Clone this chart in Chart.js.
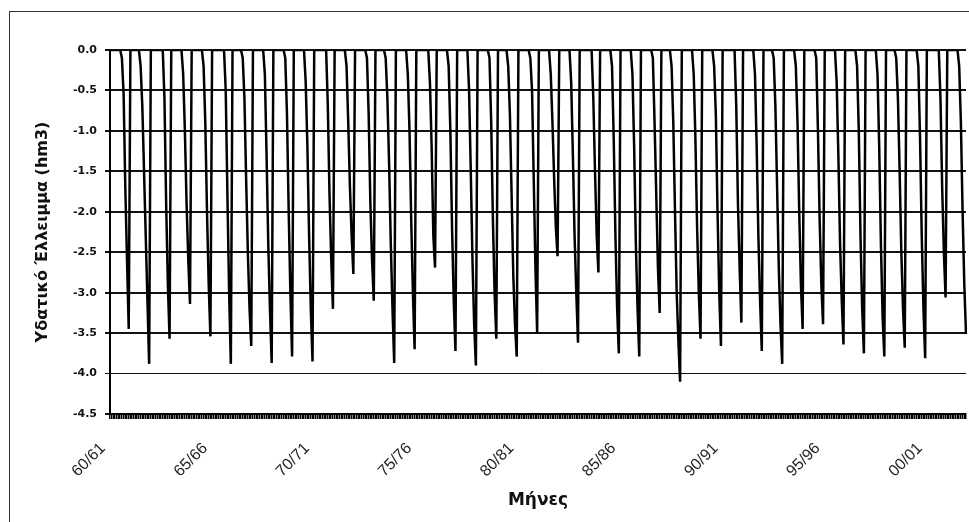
<!DOCTYPE html>
<html>
<head>
<meta charset="utf-8">
<script src="https://cdn.jsdelivr.net/npm/chart.js@4.4.0/dist/chart.umd.min.js"></script>
<style>
  html, body { margin: 0; padding: 0; background: #fff; }
  #wrap { position: relative; width: 969px; height: 522px; overflow: hidden; }
  #frame { position: absolute; left: 9px; top: 11px; width: 990px; height: 540px; border: 1.5px solid #333; }
  canvas { position: absolute; left: 0; top: 0; }
</style>
</head>
<body>
<div id="wrap">
  <div id="frame"></div>
  <canvas id="deficitChart" width="969" height="522"></canvas>
</div>
<script>
// hydrological years (Oct - Sep)
const years = ['60/61','61/62','62/63','63/64','64/65','65/66','66/67','67/68','68/69','69/70',
  '70/71','71/72','72/73','73/74','74/75','75/76','76/77','77/78','78/79','79/80',
  '80/81','81/82','82/83','83/84','84/85','85/86','86/87','87/88','88/89','89/90',
  '90/91','91/92','92/93','93/94','94/95','95/96','96/97','97/98','98/99','99/00',
  '00/01','01/02'];

const months = ['Οκτ','Νοε','Δεκ','Ιαν','Φεβ','Μαρ','Απρ','Μαϊ','Ιουν','Ιουλ','Αυγ','Σεπ'];

// monthly water deficit (hm3), one row per year, Oct..Sep
const deficit = [
  [0,0,0,0,0,0,0,-0.1,-0.55,-1.7,-2.6,-3.45],
  [0,0,0,0,0,0,-0.2,-0.7,-1.5,-2.3,-3.1,-3.88],
  [0,0,0,0,0,0,0,0,-0.6,-1.9,-2.9,-3.57],
  [0,0,0,0,0,0,0,-0.3,-1.0,-1.9,-2.6,-3.14],
  [0,0,0,0,0,0,0,-0.2,-0.9,-2.0,-2.9,-3.54],
  [0,0,0,0,0,0,0,0,-0.5,-1.8,-3.0,-3.88],
  [0,0,0,0,0,0,-0.1,-0.6,-1.6,-2.5,-3.2,-3.66],
  [0,0,0,0,0,0,0,-0.3,-1.3,-2.4,-3.2,-3.87],
  [0,0,0,0,0,0,0,-0.1,-0.8,-2.0,-3.0,-3.79],
  [0,0,0,0,0,0,0,-0.4,-1.2,-2.3,-3.2,-3.85],
  [0,0,0,0,0,0,0,0,-0.7,-1.8,-2.6,-3.2],
  [0,0,0,0,0,0,0,-0.2,-0.9,-1.7,-2.3,-2.77],
  [0,0,0,0,0,0,0,-0.1,-0.8,-1.9,-2.6,-3.1],
  [0,0,0,0,0,0,-0.1,-0.6,-1.4,-2.4,-3.2,-3.87],
  [0,0,0,0,0,0,0,-0.3,-1.0,-2.1,-3.0,-3.7],
  [0,0,0,0,0,0,0,0,-0.4,-1.2,-2.3,-2.69],
  [0,0,0,0,0,0,0,-0.2,-1.0,-2.2,-3.1,-3.72],
  [0,0,0,0,0,0,0,-0.5,-1.5,-2.6,-3.4,-3.9],
  [0,0,0,0,0,0,0,-0.1,-0.9,-2.1,-3.0,-3.57],
  [0,0,0,0,0,0,-0.2,-0.8,-1.8,-2.8,-3.4,-3.79],
  [0,0,0,0,0,0,0,-0.1,-0.5,-1.6,-2.7,-3.5],
  [0,0,0,0,0,0,0,-0.3,-0.9,-1.6,-2.2,-2.55],
  [0,0,0,0,0,0,0,-0.4,-1.3,-2.3,-3.0,-3.62],
  [0,0,0,0,0,0,0,0,-0.6,-1.5,-2.3,-2.75],
  [0,0,0,0,0,0,0,-0.2,-1.1,-2.3,-3.2,-3.75],
  [0,0,0,0,0,0,0,-0.3,-1.2,-2.4,-3.2,-3.79],
  [0,0,0,0,0,0,0,-0.1,-0.9,-1.8,-2.7,-3.25],
  [0,0,0,0,0,0,-0.2,-0.9,-2.0,-3.0,-3.6,-4.1],
  [0,0,0,0,0,0,0,-0.3,-1.1,-2.2,-3.0,-3.57],
  [0,0,0,0,0,0,0,-0.2,-0.8,-2.0,-3.0,-3.66],
  [0,0,0,0,0,0,0,0,-0.7,-1.9,-2.7,-3.37],
  [0,0,0,0,0,0,0,-0.3,-1.2,-2.3,-3.1,-3.72],
  [0,0,0,0,0,0,-0.1,-0.7,-1.7,-2.7,-3.4,-3.88],
  [0,0,0,0,0,0,0,-0.2,-0.9,-2.0,-2.9,-3.45],
  [0,0,0,0,0,0,0,-0.1,-1.0,-2.1,-2.9,-3.39],
  [0,0,0,0,0,0,0,-0.4,-1.3,-2.4,-3.1,-3.64],
  [0,0,0,0,0,0,0,-0.2,-1.0,-2.3,-3.2,-3.75],
  [0,0,0,0,0,0,0,-0.3,-1.2,-2.4,-3.3,-3.79],
  [0,0,0,0,0,0,-0.1,-0.6,-1.5,-2.5,-3.2,-3.68],
  [0,0,0,0,0,0,0,-0.2,-1.1,-2.3,-3.2,-3.81],
  [0,0,0,0,0,0,0,0,-0.6,-1.7,-2.5,-3.06],
  [0,0,0,0,0,0,0,-0.2,-0.9,-2.0,-2.9,-3.51]
];

const yTicks = [0, -0.5, -1, -1.5, -2, -2.5, -3, -3.5, -4, -4.5];
const labelEvery = 60; // show a year label every 5 years

// one category per month
const labels = years.flatMap(y => months.map(m => y));
const values = deficit.flat();

const sansFont = "'Liberation Sans', Arial, sans-serif";
const boldFont = "'DejaVu Sans', sans-serif";

new Chart(document.getElementById('deficitChart'), {
  type: 'line',
  data: {
    labels: labels,
    datasets: [{
      data: values,
      borderColor: '#000',
      borderWidth: 2.5,
      pointRadius: 0,
      tension: 0,
      fill: false
    }]
  },
  options: {
    responsive: false,
    animation: false,
    layout: { padding: { top: 50, right: 3, left: 0, bottom: 0 } },
    plugins: {
      legend: { display: false },
      tooltip: { enabled: false }
    },
    scales: {
      x: {
        type: 'category',
        offset: false,
        grid: {
          drawOnChartArea: false,
          drawTicks: true,
          tickLength: 5,
          color: '#000',
          lineWidth: 1.5
        },
        border: { color: '#000', width: 2 },
        ticks: {
          autoSkip: false,
          minRotation: 45,
          maxRotation: 45,
          padding: 20,
          labelOffset: -7,
          color: '#222',
          font: { family: sansFont, size: 16 },
          callback: (v, i) => i % labelEvery === 0 ? labels[i] : ''
        },
        title: {
          display: true,
          text: 'Μήνες',
          color: '#111',
          font: { family: boldFont, size: 17, weight: 'bold' },
          padding: { top: 0, bottom: 11 }
        },
        afterFit: s => {
          s.height = 108;
          s.paddingLeft = 0;
          s.paddingRight = 0;
        }
      },
      y: {
        min: -4.5,
        max: 0,
        afterBuildTicks: s => { s.ticks = yTicks.map(v => ({ value: v })); },
        grid: {
          color: '#111',
          lineWidth: c => (c.tick && c.tick.value === -4) ? 1 : 2,
          tickLength: 5
        },
        border: { color: '#000', width: 2 },
        ticks: {
          padding: 8,
          color: '#111',
          font: { family: boldFont, size: 11, weight: 'bold' },
          callback: v => v.toFixed(1)
        },
        title: {
          display: true,
          text: 'Υδατικό Έλλειμμα (hm3)',
          color: '#111',
          font: { family: boldFont, size: 16, weight: 'bold' },
          padding: { top: 33, bottom: 0 }
        },
        afterFit: s => { s.width = 110; }
      }
    }
  }
});
</script>
</body>
</html>
